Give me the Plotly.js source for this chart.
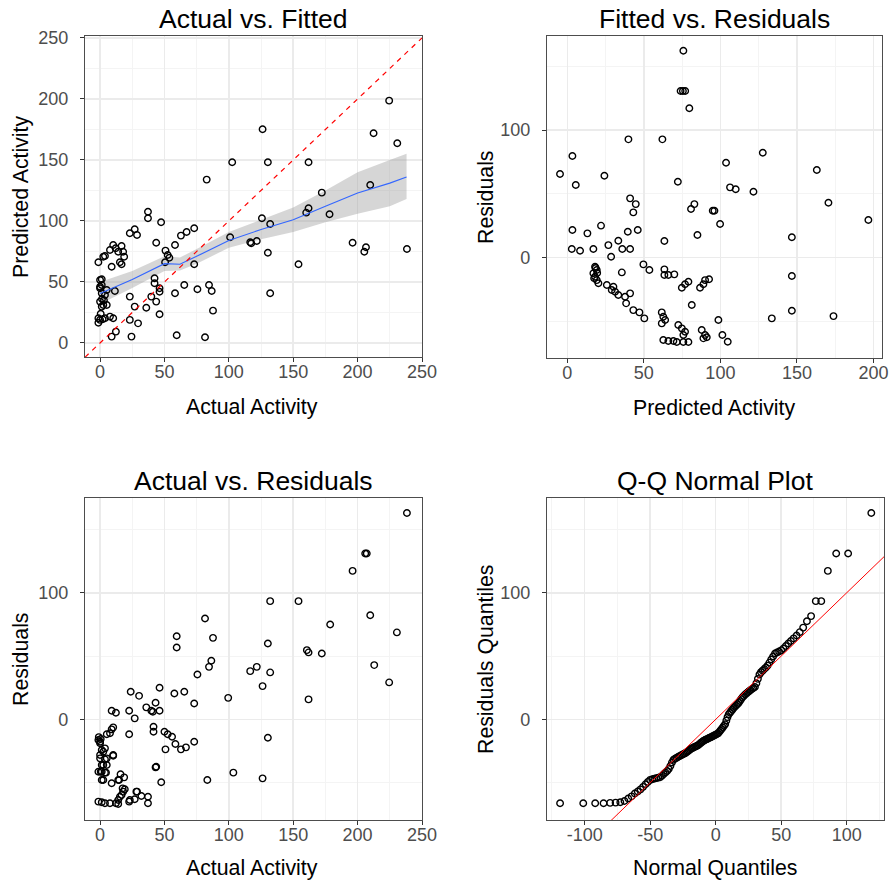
<!DOCTYPE html>
<html>
<head>
<meta charset="utf-8">
<script src="https://cdn.plot.ly/plotly-3.0.1.min.js"></script>
<style>html,body{margin:0;padding:0;background:#fff;}#chart{width:893px;height:884px;}</style>
</head>
<body>
<div id="chart"></div>
<script>
// ---------- Panel 1: Actual vs. Fitted ----------
const actual1 = [102.6, 82.8, 37.2, 37.2, 47.4, 23.1, 26.9, 28.7, 43.6, 62.8, 67.2, 73.1, 58.2, 50.8, 52.5, 50.5, 53.8, 73.1, 101, 116.6,
  -1.3, 2.5, 3.8, 7.7, 10.2, 12.1, 14.1, 16.7, 17.9, 18.7, 9, 15.4, 16.7,
  1.3, 0, 1.3, 3.8, 5.2, 11.5, 0, 2.5, 1.3, 5.2, -1.3, 0, 3.8, 7.7, 10.2, -1.3, 9, 12.3,
  23.1, 26.9, 35.9, 29.5, 23.1, 24.4, 39.8, 42.3, 42.3, 43.6, 46.2, 46.2, 46.2, 58.2, 65.4, 75.6, 84.6, 86.7, 87.7, 59.5, 81.5,
  0, 1.3, 0, 1.5, 3, 0.5, 2,
  126.2, 130.3, 161.9, 224.5, 212.4, 230.8, 209.8, 172.2, 161.9, 160.1, 178.2, 125.7, 132.1, 117.4, 121.7, 130.3, 154.1, 132.1, 196.1, 205.2, 206.5, 238.3];
const pred1 = [148.1, 133.9, 107.6, 102.2, 98.9, 89.9, 93.2, 88.5, 82.2, 88, 91, 94, 80.3, 75.7, 72.1, 66.1, 69.9, 64.5, 86.6, 82.5,
  66.1, 70.7, 71.3, 76.2, 80.3, 77.6, 74.8, 79.5, 74.8, 70.7, 62.5, 66.1, 64.5,
  52.2, 46.1, 40.7, 39.3, 43.4, 42.6, 33.9, 31.1, 29.8, 31.1, 20.2, 18.9, 20.2, 21.6, 20.2, 16.6, 5.2, 9.3,
  38, 29.8, 28.9, 16.1, 18.9, 5.2, 38, 53, 48.9, 33.9, 42, 23.5, 44.8, 40.7, 47.5, 44, 47.5, 42.6, 26.5, 6.3, 4.7,
  51.6, 47.5, 44.8, 36, 35, 24, 19.5,
  175.2, 148.1, 148.1, 198.6, 171.9, 163.7, 129.5, 123.2, 110.4, 106.8, 105.5, 102.2, 97.5, 81.7, 83.6, 74, 64.5, 40.7, 82.2, 74.8, 78.4, 77];
// smoother with confidence band
const smoothX  = [0, 25, 50, 62, 75, 100, 125, 150, 175, 200, 225, 238];
const smoothY  = [40.5, 52, 65, 64.5, 71, 84, 93, 101, 112, 123, 131, 136];
const smoothLo = [32, 45, 59, 59.5, 65, 78, 85, 91, 99, 106, 112, 118];
const smoothHi = [50, 59, 71, 70, 77, 91, 101, 111, 125, 140, 150, 155];

// ---------- Panel 2: Fitted vs. Residuals ----------
const fitted2 = [75.8, 74, 75.5, 77, 79.7, 39.9, 62.1, 3.3, -4.8, 24.2, 5.5, 72.2, 41, 44.7, 43.1, 83, 80.8, 95, 3.3, 13.1, 22, 39.5, 46, 85, 63.4,
  2.9, 8.3, 17, 26.8, 33.3, 28.6, 35.9, 41,
  18.1, 19.2, 17, 18.1, 19.2, 20.3, 18.5, 17.5, 19.5, 35.6, 49.7, 53.6, 63.4, 66, 69.9, 63.4,
  25.8, 30.1, 31.2, 33.3, 29, 41, 37.7, 38.4, 43.1, 47.1, 50.3, 61.7, 62.7, 63.9, 61.7,
  74.8, 76.9, 79.1, 90, 88.9, 86.7, 81.3, 72.5, 74.8, 76.9, 75.8, 87.8, 90, 88.9,
  62.7, 66, 69.3, 71.5, 75.8, 79.1,
  127.7, 103.7, 106.3, 110, 121.6, 163, 170.6, 196.7, 96.1, 99.8, 146.7, 146.7, 92.6, 98.7, 133.6, 146.7, 173.9, 91.1, 101.3, 104.8];
const resid2 = [162.1, 130.5, 130.5, 130.5, 117, 92.7, 92.7, 79.6, 65.5, 64.2, 56.9, 59.5, 46.5, 42, 35.5, 42, 38.1, 36.8, 21.7, 19.1, 25.1, 20.4, 21.7, 17.8, 13.1,
  6.8, 5.5, 6.8, 9.9, 13.3, 0.8, 6.8, 6.8,
  -7, -9.6, -12.2, -14.9, -17.5, -20, -8, -16, -12, -11.5, -5.2, -9.6, -9.1, -13.5, -13, -13.5,
  -21.4, -22.7, -26.6, -29.2, -25.3, -27.9, -30.5, -35.7, -41, -42.8, -47.5, -42.8, -46.2, -48.8, -51.4,
  -23.5, -20.8, -18.8, -17.5, -20.8, -23.5, -37, -52.7, -55.3, -57.9, -60.5, -56.6, -60.5, -63.1,
  -64.4, -65.2, -65.2, -66, -66, -66,
  82.2, 74.4, 55.1, 53.6, 51.7, 68.7, 43.1, 29.5, 36.8, 26.4, 16, -14.3, -16.9, -48.8, -47.5, -41.5, -45.7, -62.3, -60.5, -65.8];

// ---------- Panel 3: Actual vs. Residuals ----------
const actual3 = [81.5, 59.5, 59.5, 87.7, 86.4, 84.6, 75.6, 116.6, 23.8, 30.3, 46.2, 57.7, 65.4, 73.1, 99.5, 43.1, 35.9, 39.8, 46.2, 22.6, 26.9, 9, 12.3, 41,
  41.5, 41.5, 22.6, 50, 52.5, 55.9, 58.5, 62.8, 66.7, 73.1, 50.8, 43.6, 47.5, 83.3, 103.5,
  -1.3, 0, 1.3, 3.8, 0, 3.8, 10.2, 1.3, 0.5, 4.6, 2.5, 9, 15.9, 14.8, 17.5, 17.9, 16.7, 23.1, 26.9, 28.7, 37.2, 37.2, 22.6,
  -1.3, 1.3, 3.8, 7.7, 12.3, 14.1, 9, 7.7, 5.2, 10.2, -1, 0.5,
  0, 2.5, 0, 5.2, 2.5, 5.2, -1.3, 1.3, 3.8, 1.3, 10.2, 14.1, 18.7, 19.2, 15.4, 14.1, 28.2, 32.1, 43.1,
  238.3, 205.9, 207.1, 196.1, 132.1, 154.1, 209.8, 178.7, 230.5, 130.3, 160.6, 161.9, 172.2, 121.7, 132.1, 126.2, 212.9, 224.5, 161.9, 130.3, 126.2];
const resid3 = [79.7, 65.7, 56.8, 64.4, 46.3, 41.5, 35.5, 38.1, 21.8, 18.6, 25, 20.5, 21.8, 12.6, 17, 13.1, 9.5, 6.8, 6.8, 6.8, 0.8, 6.8, 5.2, 6,
  -5.8, -9.8, -11.8, -9.8, -11.8, -13.7, -19.5, -23.7, -22.1, -17.7, -23.7, -37.4, -49.7, -47.9, -42.1,
  -16.3, -18.9, -24.2, -22.9, -30.8, -31.6, -28.7, -36.1, -41.4, -42.1, -47.9, -50.5, -43.4, -47.9, -54.5, -57.1, -59.7, -63.7, -63.1, -57.1, -61.1, -66.3, -65,
  -65, -65.5, -66.3, -66.3, -66.3, -66.8, -7.9, -11, -11.8, -6.3, -14, -15.5,
  -17.7, -25.6, -28.2, -30.8, -36.1, -36.1, -41.4, -41.4, -42.1, -47.9, -28.2, -47.9, -45.8, -55.2, -61.1, -63.7, -57.1, -60.5, -37.9,
  163.1, 131, 131, 117.3, 93.4, 93.4, 82.3, 75, 68.7, 60, 54.7, 52.9, 52.1, 41.5, 37.1, 26.3, 42.9, 29.2, 15.8, -14.5, -46.6];

// ---------- Panel 4: Q-Q normal plot ----------
// residual sample quantiles (sorted)
const qqSample = [
  -66.3, -66.3, -66.3, -66.3, -66.0, -65.8, -65.5, -64.5, -62.5, -60.8,
  -58.6, -57.0, -55.3, -53.3, -51.3, -49.4, -47.8, -47.3, -46.8, -46.4,
  -46.0, -45.7, -44.5, -43.1, -42.0, -40.8, -39.2, -36.8, -34.1, -31.9,
  -31.1, -30.4, -29.7, -29.1, -28.5, -28.0, -27.4, -26.9, -26.1, -25.4,
  -24.6, -23.8, -23.0, -22.5, -22.0, -21.5, -21.0, -20.6, -19.9, -19.1,
  -18.2, -17.5, -16.8, -16.3, -15.8, -15.4, -14.9, -14.4, -14.0, -13.5,
  -13.1, -12.6, -12.1, -11.6, -11.1, -10.0, -8.8, -7.6, -6.4, -5.1,
  -3.8, -1.0, 1.8, 4.0, 5.2, 6.5, 7.7, 9.0, 10.0, 11.0,
  12.0, 13.0, 14.5, 16.0, 17.5, 18.5, 19.6, 20.5, 21.4, 22.3,
  23.2, 24.0, 24.8, 25.6, 28.5, 32.0, 35.5, 37.3, 38.5, 39.8,
  41.0, 42.5, 44.8, 47.3, 49.7, 52.1, 52.8, 53.6, 54.5, 56.0,
  58.0, 60.0, 61.9, 64.0, 66.3, 68.9, 72.5, 77.5, 81.6, 93.4,
  93.4, 117.3, 131.0, 131.0, 163.0];
const qqScale = 44.8;     // sd of the reference normal distribution
const qqLineSlope = 1, qqLineIntercept = 0;

// tick labels
const ticks1 = [0, 50, 100, 150, 200, 250];
const ticks2x = [0, 50, 100, 150, 200];
const ticksResid = [0, 100];
const ticksQQx = [-100, -50, 0, 50, 100];

function qnorm(p){
  const a=[-3.969683028665376e+01,2.209460984245205e+02,-2.759285104469687e+02,1.383577518672690e+02,-3.066479806614716e+01,2.506628277459239e+00];
  const b=[-5.447609879822406e+01,1.615858368580409e+02,-1.556989798598866e+02,6.680131188771972e+01,-1.328068155288572e+01];
  const c=[-7.784894002430293e-03,-3.223964580411365e-01,-2.400758277161838e+00,-2.549732539343734e+00,4.374664141464968e+00,2.938163982698783e+00];
  const d=[7.784695709041462e-03,3.224671290700398e-01,2.445134137142996e+00,3.754408661907416e+00];
  const pl=0.02425, ph=1-pl; let q,r;
  if(p<pl){q=Math.sqrt(-2*Math.log(p));return (((((c[0]*q+c[1])*q+c[2])*q+c[3])*q+c[4])*q+c[5])/((((d[0]*q+d[1])*q+d[2])*q+d[3])*q+1);}
  if(p<=ph){q=p-0.5;r=q*q;return (((((a[0]*r+a[1])*r+a[2])*r+a[3])*r+a[4])*r+a[5])*q/(((((b[0]*r+b[1])*r+b[2])*r+b[3])*r+b[4])*r+1);}
  q=Math.sqrt(-2*Math.log(1-p));return -(((((c[0]*q+c[1])*q+c[2])*q+c[3])*q+c[4])*q+c[5])/((((d[0]*q+d[1])*q+d[2])*q+d[3])*q+1);
}
const qqY = qqSample.slice().sort((u,v)=>u-v);
const nQ = qqY.length;
const qqX = qqY.map((_,i)=> qqScale*qnorm((i+0.5)/nQ));

// ---------- layout helpers ----------
const W = 893, H = 884;
const FONT = 'Liberation Sans, Arial, sans-serif';
const dx = (a,b)=>[a/W, b/W];
const dy = (top,bottom)=>[1-bottom/H, 1-top/H];

const range1x = [-11.7, 250], range1y = [-11.5, 251.6];
const range2x = [-13.3, 205.6], range2y = [-78.5, 173.6];
const range3x = [-11.7, 250], range3y = [-79.5, 174.9];
const range4x = [-128.8, 128.5], range4y = [-79.5, 174.9];

function ax(domain, range, tickvals, minorDtick, anchor, isX){
  return {
    domain, range, anchor,
    tickmode:'array', tickvals, ticktext: tickvals.map(String),
    showline:true, mirror:true, linecolor:'#4D4D4D', linewidth:1.2,
    ticks:'outside', ticklen:4, tickwidth:1, tickcolor:'#333333',
    ticklabelstandoff: isX ? -6 : 8,
    tickfont:{family:FONT, size:18, color:'#4D4D4D'},
    showgrid:true, gridcolor:'#EBEBEB', gridwidth:1.5, zeroline:false,
    minor:{dtick:minorDtick, tick0:0, showgrid:true, gridcolor:'#F4F4F4', gridwidth:1},
    fixedrange:true
  };
}

const pointStyle = {symbol:'circle-open', size:6.5, color:'#000000', line:{width:1.4, color:'#000000'}};

const traces = [
  // panel 1
  {x: smoothX, y: smoothLo, xaxis:'x', yaxis:'y', mode:'lines', line:{width:0, color:'rgba(0,0,0,0)'}, hoverinfo:'skip', showlegend:false},
  {x: smoothX, y: smoothHi, xaxis:'x', yaxis:'y', mode:'lines', line:{width:0, color:'rgba(0,0,0,0)'}, fill:'tonexty', fillcolor:'rgba(153,153,153,0.4)', hoverinfo:'skip', showlegend:false},
  {x: actual1, y: pred1, xaxis:'x', yaxis:'y', mode:'markers', marker:pointStyle, showlegend:false},
  {x: smoothX, y: smoothY, xaxis:'x', yaxis:'y', mode:'lines', line:{color:'#3366FF', width:1.1}, showlegend:false},
  {x: range1x, y: range1x, xaxis:'x', yaxis:'y', mode:'lines', line:{color:'#FF0000', width:1.2, dash:'5px,5px'}, showlegend:false},
  // panel 2
  {x: fitted2, y: resid2, xaxis:'x2', yaxis:'y2', mode:'markers', marker:pointStyle, showlegend:false},
  // panel 3
  {x: actual3, y: resid3, xaxis:'x3', yaxis:'y3', mode:'markers', marker:pointStyle, showlegend:false},
  // panel 4
  {x: qqX, y: qqY, xaxis:'x4', yaxis:'y4', mode:'markers', marker:pointStyle, showlegend:false},
  {x: range4x, y: range4x.map(v=>qqLineIntercept+qqLineSlope*v), xaxis:'x4', yaxis:'y4', mode:'lines', line:{color:'#FF0000', width:1}, showlegend:false}
];

function ann(text, xpx, ypx, size, rot){
  return {text, x:xpx/W, y:1-ypx/H, xref:'paper', yref:'paper', xanchor:'center', yanchor:'middle',
          showarrow:false, textangle: rot||0, font:{family:FONT, size, color:'#000000'}};
}

const layout = {
  width:W, height:H, margin:{l:0,r:0,t:0,b:0},
  paper_bgcolor:'#FFFFFF', plot_bgcolor:'#FFFFFF',
  font:{family:FONT},
  showlegend:false,
  xaxis:  ax(dx(85,422),  range1x, ticks1,   25, 'y', true),
  yaxis:  ax(dy(36,357),  range1y, ticks1,   25, 'x', false),
  xaxis2: ax(dx(547,882), range2x, ticks2x,  25, 'y2', true),
  yaxis2: ax(dy(36,358),  range2y, ticksResid, 50, 'x2', false),
  xaxis3: ax(dx(85,422),  range3x, ticks1,   25, 'y3', true),
  yaxis3: ax(dy(498,820), range3y, ticksResid, 50, 'x3', false),
  xaxis4: ax(dx(547,884), range4x, ticksQQx, 25, 'y4', true),
  yaxis4: ax(dy(498,820), range4y, ticksResid, 50, 'x4', false),
  annotations:[
    ann('Actual vs. Fitted', 253, 19, 26.5),
    ann('Fitted vs. Residuals', 714, 19, 26.5),
    ann('Actual vs. Residuals', 253, 481, 26.5),
    ann('Q-Q Normal Plot', 715, 481, 26.5),
    ann('Actual Activity', 252, 407, 21.3),
    ann('Predicted Activity', 714, 408, 21.3),
    ann('Actual Activity', 252, 868, 21.3),
    ann('Normal Quantiles', 715, 868, 21.3),
    ann('Predicted Activity', 21, 197, 21.3, -90),
    ann('Residuals', 486, 197, 21.3, -90),
    ann('Residuals', 21, 659, 21.3, -90),
    ann('Residuals Quantiles', 486, 659, 21.3, -90)
  ]
};

Plotly.newPlot('chart', traces, layout, {staticPlot:true, displayModeBar:false});
</script>
</body>
</html>
